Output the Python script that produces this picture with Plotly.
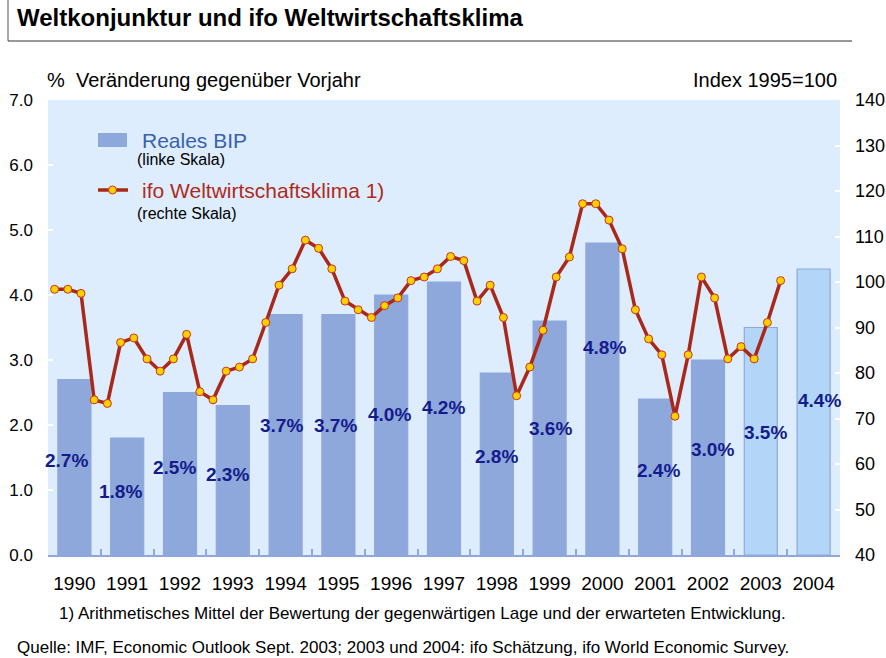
import plotly.graph_objects as go

years = ["1990", "1991", "1992", "1993", "1994", "1995", "1996", "1997",
         "1998", "1999", "2000", "2001", "2002", "2003", "2004"]
bip = [2.7, 1.8, 2.5, 2.3, 3.7, 3.7, 4.0, 4.2, 2.8, 3.6, 4.8, 2.4, 3.0, 3.5, 4.4]
forecast_years = ["2003", "2004"]

# ifo Weltwirtschaftsklima, quarterly 1990 Q1 .. 2003 Q4 (Index 1995=100)
ifo_quarters = [
    98.4, 98.4, 97.5, 74.1,
    73.3, 86.7, 87.7, 83.1,
    80.4, 83.1, 88.5, 75.9,
    74.1, 80.4, 81.3, 83.1,
    91.1, 99.3, 102.9, 109.2,
    107.4, 102.9, 95.8, 93.9,
    92.2, 94.8, 96.5, 100.3,
    101.1, 102.9, 105.6, 104.7,
    95.8, 99.3, 92.2, 75.0,
    81.3, 89.4, 101.1, 105.5,
    117.2, 117.2, 113.6, 107.3,
    93.9, 87.5, 84.0, 70.5,
    84.0, 101.1, 96.5, 83.1,
    85.8, 83.1, 91.1, 100.3,
]

FONT = "Liberation Sans, Arial, sans-serif"
BAR = "#8EA8DC"
BAR_FC = "#B3D6F8"
BG = "#DDEDFD"
LINE = "#A8291A"
NAVY = "#141C8C"

# quarter positions on a linear helper axis (category index units)
q_x = [i // 4 - 0.375 + 0.25 * (i % 4) for i in range(len(ifo_quarters))]

bar_fill = [BAR_FC if y in forecast_years else BAR for y in years]

fig = go.Figure()
fig.add_trace(go.Bar(
    x=years, y=bip, width=0.625,
    marker=dict(color=bar_fill, line=dict(color=BAR, width=1.2)),
    name="Reales BIP", showlegend=False, hoverinfo="x+y",
))
fig.add_trace(go.Scatter(
    x=q_x, y=ifo_quarters, xaxis="x2", yaxis="y2",
    mode="lines+markers",
    line=dict(color=LINE, width=3.5),
    marker=dict(size=8, color="#FFD000", line=dict(color="#C8341E", width=1)),
    name="ifo Weltwirtschaftsklima 1)", showlegend=False,
))

annotations = []
label_shift = {"2000": 0.6}
n = len(years)
for i, (yr, v) in enumerate(zip(years, bip)):
    annotations.append(dict(
        x=i, y=v * 0.54 + label_shift.get(yr, 0), xref="x", yref="y",
        text=f"<b>{v:.1f}%</b>", showarrow=False,
        font=dict(family=FONT, size=19, color=NAVY),
        xshift=(i - (n - 1) / 2) * 1.0 - 1,
    ))

def txt(x, y, s, size, color="black", xanchor="left", bold=False):
    annotations.append(dict(
        x=x, y=y, xref="paper", yref="paper", xanchor=xanchor, yanchor="middle",
        text=f"<b>{s}</b>" if bold else s, showarrow=False,
        font=dict(family=FONT, size=size, color=color),
    ))

W, H = 886, 658
L, R, T, B = 48, 46, 100, 103
pw, ph = W - L - R, H - T - B

def px(x):
    return (x - L) / pw

def py(y):
    return (H - B - y) / ph

txt(px(15), py(18), "Weltkonjunktur und ifo Weltwirtschaftsklima", 24, bold=True)
txt(px(45), py(80), "%  Veränderung gegenüber Vorjahr", 20)
txt(px(839), py(80), "Index 1995=100", 20, xanchor="right")
txt(px(140), py(140), "Reales BIP", 21, color="#3A62AE")
txt(px(135), py(159), "(linke Skala)", 16)
txt(px(140), py(190), "ifo Weltwirtschaftsklima 1)", 21, color="#B02A1C")
txt(px(135), py(213), "(rechte Skala)", 16)
txt(px(57), py(613), "1) Arithmetisches Mittel der Bewertung der gegenwärtigen Lage und der erwarteten Entwicklung.", 17)
txt(px(15), py(647), "Quelle: IMF, Economic Outlook Sept. 2003; 2003 und 2004: ifo Schätzung, ifo World Economic Survey.", 17)

shapes = [
    dict(type="line", xref="paper", yref="paper", x0=px(8), x1=px(8), y0=py(0), y1=py(41),
         line=dict(color="#555555", width=1)),
    dict(type="line", xref="paper", yref="paper", x0=px(8), x1=px(852), y0=py(41), y1=py(41),
         line=dict(color="#333333", width=1.2)),
    dict(type="rect", xref="paper", yref="paper", x0=px(98), x1=px(127), y0=py(147), y1=py(133),
         fillcolor=BAR, line=dict(width=0)),
    dict(type="line", xref="paper", yref="paper", x0=px(98), x1=px(128), y0=py(190), y1=py(190),
         line=dict(color=LINE, width=3.5)),
    dict(type="circle", xref="paper", yref="paper", x0=px(108.5), x1=px(116.5), y0=py(194), y1=py(186),
         fillcolor="#FFD000", line=dict(color="#C8341E", width=1)),
]

fig.update_layout(
    width=W, height=H,
    margin=dict(l=L, r=R, t=T, b=B, autoexpand=False),
    paper_bgcolor="white", plot_bgcolor=BG,
    font=dict(family=FONT, size=17, color="black"),
    bargap=0.375,
    showlegend=False,
    annotations=annotations, shapes=shapes,
    xaxis=dict(
        type="category", tickson="boundaries", ticks="inside", ticklen=6,
        tickcolor=BAR, tickwidth=1.5, showline=True, linecolor=BAR, linewidth=2,
        showgrid=False, tickfont=dict(size=19), ticklabelstandoff=10,
        range=[-0.5, 14.5], automargin=False,
    ),
    xaxis2=dict(overlaying="x", range=[-0.5, 14.5], visible=False),
    yaxis=dict(
        range=[0, 7], dtick=1, tickformat=".1f", ticks="inside", ticklen=5,
        tickcolor="white", tickwidth=2, showgrid=False, zeroline=False,
        showline=False, tickfont=dict(size=17), ticklabelstandoff=14,
        automargin=False,
    ),
    yaxis2=dict(
        overlaying="y", side="right", range=[40, 140], dtick=10,
        ticks="inside", ticklen=5, tickcolor="white", tickwidth=2,
        showgrid=False, zeroline=False, showline=False,
        tickfont=dict(size=18), ticklabelstandoff=14, automargin=False,
    ),
)

fig.write_html(
    "out.html",
    config={"displayModeBar": False},
    post_script="document.body.style.margin='0';document.body.style.overflow='hidden';",
)
